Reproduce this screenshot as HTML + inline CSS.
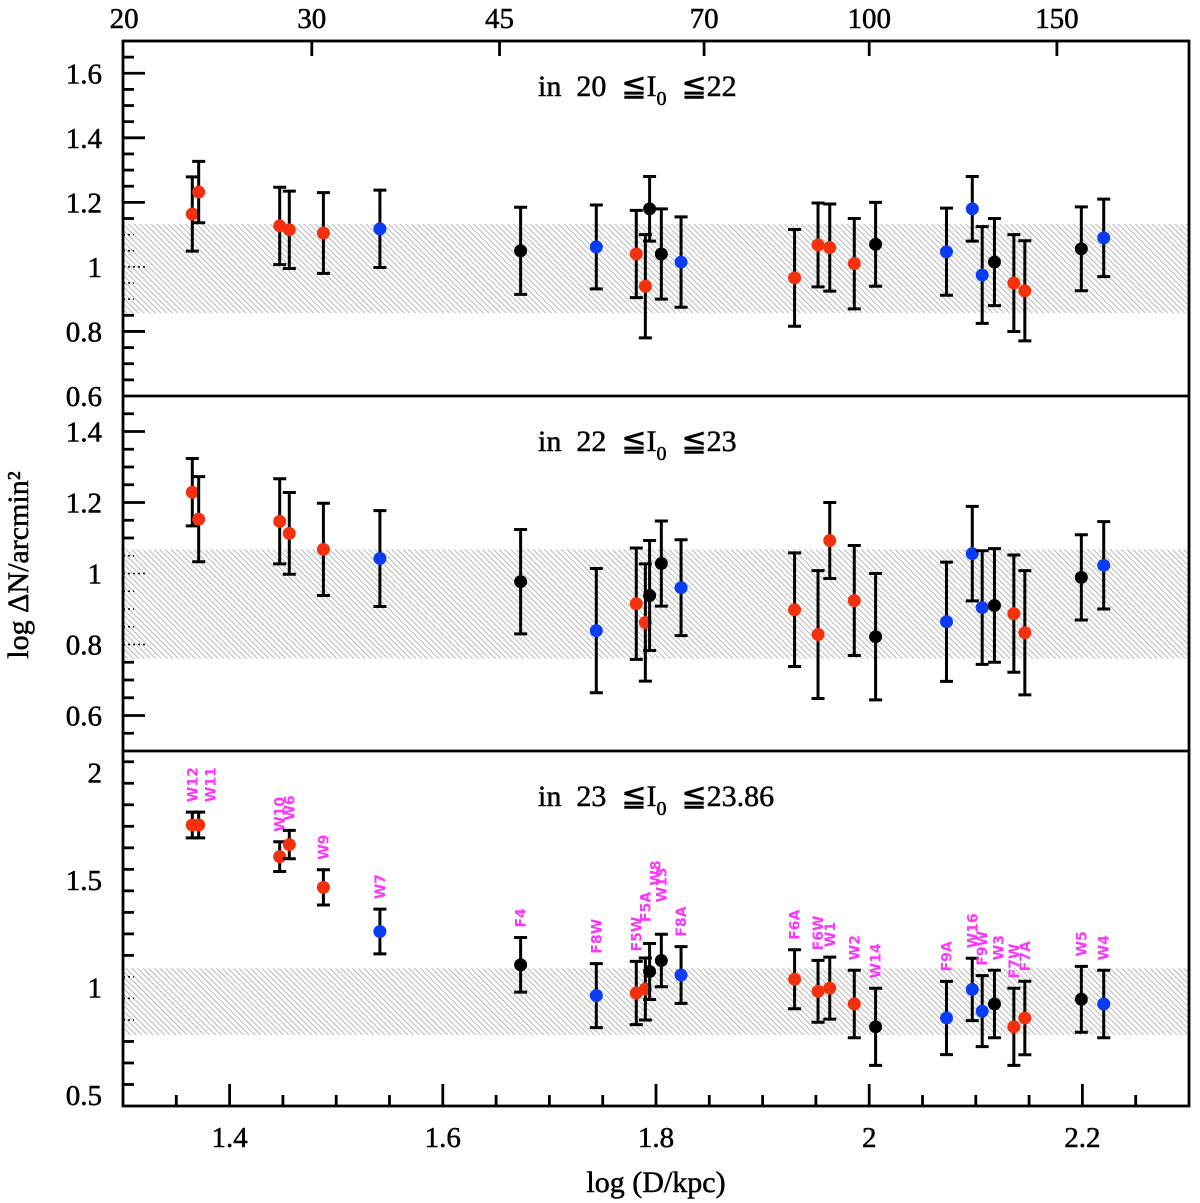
<!DOCTYPE html>
<html><head><meta charset="utf-8">
<style>
html,body{margin:0;padding:0;background:#fff;}
svg{display:block;}
text{font-family:"Liberation Serif","DejaVu Serif",serif;fill:#000;stroke:#000;stroke-width:0.5;white-space:pre;}
.lbl{font-family:"DejaVu Sans","Liberation Sans",sans-serif;font-weight:bold;fill:#ff33ff;stroke:none;font-size:14px;}
</style></head>
<body>
<svg id="chart" width="1200" height="1203" viewBox="0 0 1200 1203" xmlns="http://www.w3.org/2000/svg">
<defs>
<pattern id="hatch" width="4" height="4" patternUnits="userSpaceOnUse" patternTransform="rotate(-45)">
<rect width="4" height="4" fill="#ffffff"/>
<line x1="0" y1="0" x2="0" y2="4" stroke="#b0b0b0" stroke-width="1.8"/>
</pattern>
</defs>
<g id="root"></g>
</svg>
<script>
const fields = ["W12","W11","W10","W6","W9","W7","F4","F8W","F5W","F5A","W8","W13","F8A","F6A","F6W","W1","W2","W14","F9A","W16","F9W","W3","F7W","F7A","W5","W4"];
const logD = [1.365,1.371,1.447,1.456,1.488,1.541,1.673,1.744,1.7815,1.790,1.794,1.805,1.8235,1.930,1.952,1.963,1.986,2.006,2.0725,2.0967,2.106,2.1175,2.1357,2.146,2.199,2.220];
const colorClass = ["r","r","r","r","r","b","k","b","r","r","k","k","b","r","r","r","r","k","b","b","b","k","r","r","k","b"];
const p1Val = [1.164,1.232,1.127,1.115,1.105,1.118,1.05,1.062,1.04,0.94,1.18,1.04,1.015,0.966,1.068,1.06,1.01,1.07,1.047,1.18,0.975,1.015,0.95,0.926,1.056,1.09];
const p1Err = [0.115,0.095,0.12,0.12,0.125,0.12,0.135,0.13,0.135,0.16,0.1,0.14,0.14,0.15,0.13,0.135,0.14,0.13,0.135,0.1,0.15,0.135,0.15,0.155,0.13,0.12];
const p2Val = [1.229,1.153,1.147,1.113,1.068,1.042,0.977,0.839,0.915,0.862,0.938,1.028,0.96,0.898,0.828,1.093,0.924,0.822,0.864,1.056,0.904,0.91,0.887,0.833,0.989,1.023];
const p2Err = [0.095,0.12,0.12,0.115,0.13,0.135,0.147,0.175,0.157,0.165,0.155,0.12,0.135,0.16,0.18,0.107,0.155,0.178,0.168,0.133,0.16,0.16,0.165,0.175,0.12,0.123];
const p3Val = [1.756,1.756,1.609,1.665,1.466,1.261,1.106,0.963,0.975,0.994,1.075,1.126,1.059,1.039,0.983,0.998,0.924,0.818,0.859,0.992,0.891,0.924,0.818,0.859,0.946,0.924];
const p3Err = [0.06,0.06,0.069,0.066,0.082,0.104,0.127,0.149,0.147,0.144,0.13,0.122,0.132,0.137,0.144,0.144,0.157,0.179,0.17,0.145,0.165,0.157,0.179,0.171,0.153,0.157];
const labelLift = [0,0,0,0,0,0,0,0,0,26,48,22,0,0,0,0,0,0,0,0,0,0,0,0,0,0];
const labelShift = [0,12,0,0,0,0,0,0,0,0,6,0,0,0,0,0,0,0,0,0,0,4,0,0,0,0];
const topTickVals = [20,30,45,70,100,150];
const bottomTickLabels = ["1.4","1.6","1.8","2","2.2"];
const bottomTickVals = [1.4,1.6,1.8,2.0,2.2];
const panelTitlesLo = ["20","22","23"];
const panelTitlesHi = ["22","23","23.86"];

const NS="http://www.w3.org/2000/svg";
const root=document.getElementById('root');
const X0=123,X1=1189,XMIN=1.3,XMAX=2.3;
const xs=v=>X0+(v-XMIN)/(XMAX-XMIN)*(X1-X0);
const colors={r:"#f5300c",b:"#0b3cf5",k:"#000000"};
function mk(tag,attrs,parent){const e=document.createElementNS(NS,tag);for(const k in attrs)e.setAttribute(k,attrs[k]);(parent||root).appendChild(e);return e;}

const panels=[
 {top:41,bot:396,ymin:0.6,ymax:1.7,major:[0.6,0.8,1,1.2,1.4,1.6],majLbl:["0.6","0.8","1","1.2","1.4","1.6"],minorStep:0.05,band:[0.857,1.133],val:p1Val,err:p1Err},
 {top:396,bot:751,ymin:0.5,ymax:1.5,major:[0.6,0.8,1,1.2,1.4],majLbl:["0.6","0.8","1","1.2","1.4"],minorStep:0.05,band:[0.76,1.068],val:p2Val,err:p2Err},
 {top:751,bot:1106,ymin:0.45,ymax:2.1,major:[0.5,1,1.5,2],majLbl:["0.5","1","1.5","2"],minorStep:0.1,band:[0.78,1.09],val:p3Val,err:p3Err}
];

panels.forEach((p,pi)=>{
 const ys=v=>p.bot-(v-p.ymin)/(p.ymax-p.ymin)*(p.bot-p.top);
 const g=mk('g',{});
 
 
 const band=mk('rect',{x:X0,y:ys(p.band[1]),width:X1-X0,height:ys(p.band[0])-ys(p.band[1]),fill:'url(#hatch)'},g);
 
 
 const n=Math.round((p.ymax-p.ymin)/p.minorStep);
 for(let i=0;i<=n;i++){
  const v=+(p.ymin+i*p.minorStep).toFixed(3);
  if(v<=p.ymin+1e-6||v>=p.ymax-1e-6)continue;
  const isMaj=p.major.some(m=>Math.abs(m-v)<1e-6);
  const y=ys(v);
  const inBand=v>p.band[0]&&v<p.band[1];
  const t=mk('line',{x1:X0,y1:y,x2:X0+(isMaj?22:11),y2:y,stroke:'#000','stroke-width':inBand?1.5:2.8},g);
  if(inBand)t.setAttribute('stroke-dasharray','2,3');
  
  
 }
 p.major.forEach((v,i)=>{
  const t=mk('text',{x:102,y:ys(v)+10,'text-anchor':'end','font-size':'29'},g);
  t.textContent=p.majLbl[i];
  
  
 });
 const tt=mk('text',{x:538,y:p.top+55,'font-size':'30'},g);
 
 
 tt.innerHTML='in  '+panelTitlesLo[pi]+'  \u2266I<tspan font-size="20" dy="9">0</tspan><tspan dy="-9">  \u2266'+panelTitlesHi[pi]+'</tspan>';
 fields.forEach((f,i)=>{
  const x=xs(logD[i]),y=ys(p.val[i]),yt=ys(p.val[i]+p.err[i]),yb=ys(p.val[i]-p.err[i]);
  const eb=mk('path',{d:`M${x},${yt}V${yb}M${x-6.5},${yt}H${x+6.5}M${x-6.5},${yb}H${x+6.5}`,stroke:'#000','stroke-width':3,fill:'none'},g);
  
  
  const c=mk('circle',{cx:x,cy:y,r:6.5,fill:colors[colorClass[i]]},g);
  
  
  if(pi===2){
   const ly=yt-10-labelLift[i], lx=x+5+labelShift[i];
   const l=mk('text',{class:'lbl',x:lx,y:ly,transform:`rotate(-90 ${lx} ${ly})`},g);
   l.textContent=f;
   
   
  }
 });
 if(pi>0){
  const d=mk('line',{x1:X0,y1:p.top,x2:X1,y2:p.top,stroke:'#000','stroke-width':2.8},g);
  
  
 }
});

const fr=mk('rect',{x:X0,y:41,width:X1-X0,height:1106-41,fill:'none',stroke:'#000','stroke-width':2.8});



for(let i=1;i<20;i++){
 const v=+(XMIN+i*0.05).toFixed(3);
 const isMaj=bottomTickVals.some(m=>Math.abs(m-v)<1e-6);
 const x=xs(v);
 const t=mk('line',{x1:x,y1:1106,x2:x,y2:1106-(isMaj?22:11),stroke:'#000','stroke-width':2.8});
 
 
}
bottomTickVals.forEach((v,i)=>{
 const t=mk('text',{x:xs(v),y:1147,'text-anchor':'middle','font-size':'29'});
 t.textContent=bottomTickLabels[i];
 
 
});
topTickVals.forEach((d,i)=>{
 const x=xs(Math.log10(d));
 if(i>0){
  const t=mk('line',{x1:x,y1:41,x2:x,y2:56,stroke:'#000','stroke-width':2.8});
  
  
 }
 const l=mk('text',{x:x,y:28,'text-anchor':'middle','font-size':'29'});
 l.textContent=String(d);
 
 
});
const xt=mk('text',{x:656,y:1192,'text-anchor':'middle','font-size':'30'});
xt.textContent='log (D/kpc)';


const yt=mk('text',{x:28,y:565,'text-anchor':'middle','font-size':'30',transform:'rotate(-90 28 565)'});
yt.textContent='log \u0394N/arcmin\u00b2';


</script>
</body></html>
